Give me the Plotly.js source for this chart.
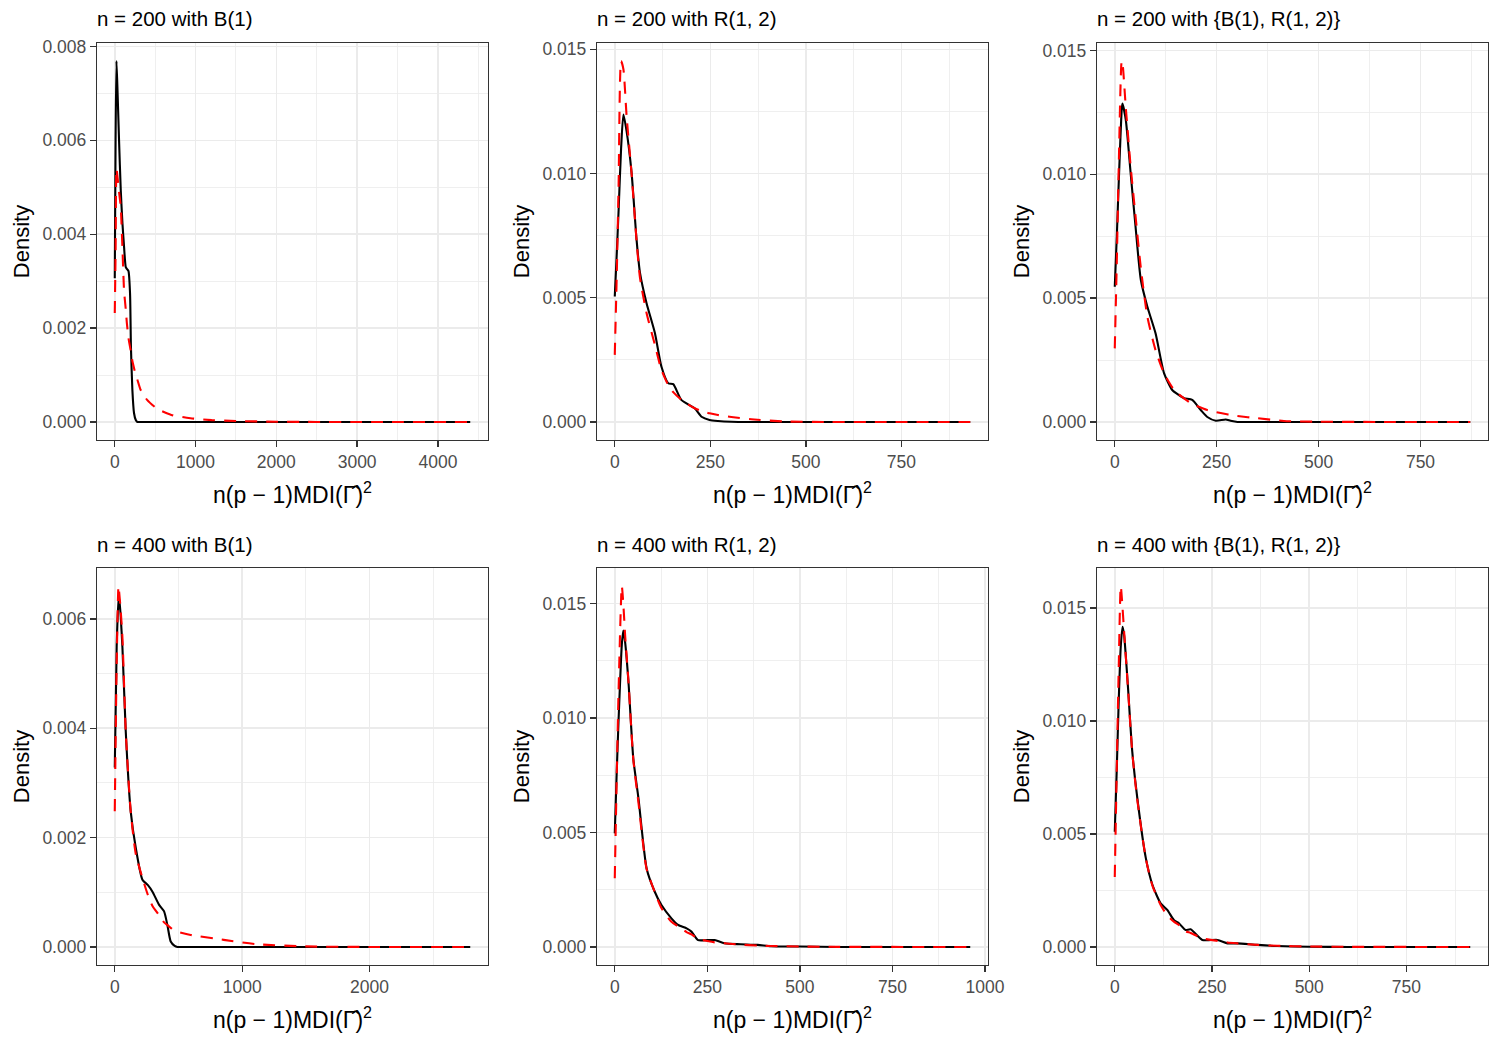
<!DOCTYPE html>
<html>
<head>
<meta charset="utf-8">
<script src="https://cdn.plot.ly/plotly-3.0.1.min.js"></script>
<style>html,body{margin:0;padding:0;background:#fff;}#chart{width:1500px;height:1050px;}</style>
</head>
<body>
<div id="chart"></div>
<script>
// ---------- data ----------
const panelTitles = ["n = 200 with B(1)", "n = 200 with R(1, 2)", "n = 200 with {B(1), R(1, 2)}",
                     "n = 400 with B(1)", "n = 400 with R(1, 2)", "n = 400 with {B(1), R(1, 2)}"];
const xTitle = "n(p − 1)MDI(Γ̂)<sup>2</sup>";
const yTitle = "Density";

const x1 = [0, 10, 21, 35, 53, 74, 95, 115, 136, 150, 169, 189, 200, 218, 238, 260, 280, 321, 400, 527, 700, 938, 1200, 1500, 2000, 2500, 3000, 4400];
const black1 = [0.00306, 0.0060, 0.00769, 0.0070, 0.0060, 0.00494, 0.00423, 0.00373, 0.0033, 0.00326, 0.00322, 0.00274, 0.0016, 0.00068, 0.00019, 0.00004, 0, 0, 0, 0, 0, 0, 0, 0, 0, 0, 0, 0];
const red1 = [0.00232, 0.0036, 0.0054, 0.0052, 0.0049, 0.00458, 0.0037, 0.0028, 0.0024, 0.0021, 0.0018, 0.0016, 0.0015, 0.0013, 0.00115, 0.0010, 0.0009, 0.00068, 0.00047, 0.00028, 0.00015, 0.00008, 0.00004, 0.00002, 0.000005, 0, 0, 0];

const x2 = [0, 5, 10, 16.5, 22.6, 31, 44, 57, 66, 83, 105, 122, 140, 153, 174, 209, 227, 248, 270, 305, 357, 443, 550, 700, 930];
const black2 = [0.00505, 0.0067, 0.0085, 0.0110, 0.01238, 0.0117, 0.01003, 0.00734, 0.0060, 0.00479, 0.00358, 0.00223, 0.00156, 0.00152, 0.00089, 0.00055, 0.00021, 0.00008, 0.00004, 0.00001, 0, 0, 0, 0, 0];
const red2 = [0.0027, 0.0058, 0.0095, 0.01453, 0.0142, 0.0123, 0.0100, 0.0073, 0.0058, 0.0044, 0.0031, 0.0021, 0.00148, 0.0012, 0.0009, 0.00055, 0.00045, 0.00035, 0.00028, 0.0002, 0.00011, 0.00002, 0, 0, 0];

const x3 = [0, 5, 10, 17, 18.8, 27, 39, 51, 64, 80, 100, 121, 141, 154, 170, 190, 211, 227, 248, 272, 284, 301, 350, 415, 500, 650, 872];
const black3 = [0.00546, 0.0075, 0.0098, 0.0126, 0.01285, 0.0122, 0.01003, 0.00788, 0.00573, 0.00465, 0.00358, 0.00196, 0.00129, 0.00112, 0.00096, 0.00089, 0.00048, 0.0002, 0.00005, 0.0001, 0.00005, 0, 0, 0, 0, 0, 0];
const red3 = [0.00297, 0.0065, 0.0105, 0.01457, 0.0145, 0.0127, 0.0103, 0.0083, 0.0062, 0.00425, 0.0029, 0.00196, 0.0014, 0.00116, 0.00095, 0.00072, 0.00058, 0.00048, 0.0004, 0.00032, 0.00028, 0.00024, 0.00015, 0.00004, 0.00001, 0, 0];

const x4 = [0, 15, 29, 34, 45, 60, 86, 125, 165, 217, 260, 296, 348, 387, 413, 439, 470, 492, 596, 855, 1119, 1500, 2000, 2790];
const black4 = [0.00328, 0.0055, 0.0063, 0.0064, 0.0061, 0.00548, 0.00395, 0.00248, 0.00181, 0.00123, 0.00113, 0.00101, 0.00077, 0.00065, 0.0004, 0.0001, 0.00002, 0, 0, 0, 0, 0, 0, 0];
const red4 = [0.00248, 0.0052, 0.0066, 0.0065, 0.0062, 0.00566, 0.00395, 0.00248, 0.0017, 0.00126, 0.00095, 0.00075, 0.00058, 0.00045, 0.0004, 0.00035, 0.0003, 0.00028, 0.00022, 0.00013, 0.00005, 0.00001, 0, 0];

const x5 = [0, 5, 10, 19, 23, 28, 37, 50, 64, 86, 108, 126, 153, 171, 194, 207, 225, 250, 270, 296, 340, 386, 422, 500, 600, 960];
const black5 = [0.00496, 0.0075, 0.0098, 0.0132, 0.01382, 0.0133, 0.01157, 0.00823, 0.00649, 0.00343, 0.00241, 0.00183, 0.00125, 0.00096, 0.00081, 0.00067, 0.0003, 0.0003, 0.0003, 0.00016, 0.00012, 0.00009, 0.00003, 0.00002, 0, 0];
const red5 = [0.003, 0.0072, 0.0110, 0.01576, 0.0150, 0.0136, 0.0116, 0.0082, 0.0063, 0.0034, 0.0024, 0.0017, 0.0011, 0.0009, 0.00065, 0.00055, 0.00035, 0.00026, 0.0002, 0.00016, 0.0001, 0.00006, 0.00004, 0.00002, 0.000005, 0];

const x6 = [0, 5, 10, 15.4, 20, 24, 33, 45, 58, 80, 97, 118, 135, 152, 165, 182, 195, 225, 264, 290, 315, 367, 418, 500, 600, 914];
const black6 = [0.0051, 0.0078, 0.0108, 0.0133, 0.01417, 0.0138, 0.01174, 0.00864, 0.00658, 0.00392, 0.00274, 0.00193, 0.00164, 0.00119, 0.00105, 0.00075, 0.00078, 0.00031, 0.00031, 0.00016, 0.00016, 0.00009, 0.00004, 0.00001, 0, 0];
const red6 = [0.0031, 0.0078, 0.0122, 0.01597, 0.0150, 0.01395, 0.0117, 0.0086, 0.0065, 0.0039, 0.0027, 0.00186, 0.0014, 0.00112, 0.00097, 0.0007, 0.00062, 0.00038, 0.00027, 0.0002, 0.00016, 0.00009, 0.00005, 0.00002, 0.000005, 0];

const xDticks = [1000, 250, 250, 1000, 250, 250];
const yDticks = [0.002, 0.005, 0.005, 0.002, 0.005, 0.005];

// ---------- build ----------
const panels = [
  {x: x1, b: black1, r: red1}, {x: x2, b: black2, r: red2}, {x: x3, b: black3, r: red3},
  {x: x4, b: black4, r: red4}, {x: x5, b: black5, r: red5}, {x: x6, b: black6, r: red6}
];

const W = 1500, H = 1050;
const colL = [97, 597, 1097], colW = 391;
const rowT = [43, 568], rowH = 397;

const FAM = "Liberation Sans, Arial, sans-serif";
const tickFont = {family: FAM, size: 17.5, color: "#4D4D4D"};
const titleFont = {family: FAM, size: 20.5, color: "#000"};
const axTitleFont = {family: FAM, size: 22, color: "#000"};
const xTitleFont = {family: FAM, size: 23, color: "#000"};

const data = [];
const layout = {
  width: W, height: H,
  margin: {l: 0, r: 0, t: 0, b: 0},
  paper_bgcolor: "#fff", plot_bgcolor: "#fff",
  showlegend: false,
  annotations: []
};

panels.forEach((p, i) => {
  const row = Math.floor(i / 3), col = i % 3;
  const ax = i === 0 ? "" : String(i + 1);
  const xa = "x" + ax, ya = "y" + ax;

  data.push({x: p.x, y: p.b, xaxis: xa, yaxis: ya, type: "scatter", mode: "lines",
             line: {color: "#000", width: 2.1, shape: "spline", smoothing: 0.6}, hoverinfo: "skip"});
  data.push({x: p.x, y: p.r, xaxis: xa, yaxis: ya, type: "scatter", mode: "lines",
             line: {color: "#FF0000", width: 2.1, dash: "12px,9px", shape: "spline", smoothing: 0.6}, hoverinfo: "skip"});

  const xmin = Math.min(...p.x), xmax = Math.max(...p.x);
  const ymin = Math.min(...p.b, ...p.r), ymax = Math.max(...p.b, ...p.r);
  const xs = xmax - xmin, ys = ymax - ymin;

  const x0 = colL[col] / W, x1d = (colL[col] + colW) / W;
  const yTop = 1 - rowT[row] / H, yBot = 1 - (rowT[row] + rowH) / H;

  const common = {
    showline: true, mirror: true, linecolor: "#333333", linewidth: 1.3,
    ticks: "outside", ticklen: 6, tickwidth: 1.3, tickcolor: "#333333",
    tickfont: tickFont, showgrid: true, gridcolor: "#EBEBEB", gridwidth: 1.6,
    zeroline: false, tickmode: "linear", tick0: 0, fixedrange: true, automargin: false
  };
  layout["xaxis" + ax] = Object.assign({}, common, {
    domain: [x0, x1d], anchor: ya,
    range: [xmin - 0.05 * xs, xmax + 0.05 * xs],
    dtick: xDticks[i], tickformat: "d",
    title: {text: xTitle, font: xTitleFont, standoff: 15},
    minor: {dtick: xDticks[i] / 2, tick0: 0, showgrid: true, gridcolor: "#EBEBEB", gridwidth: 0.8, ticklen: 0}
  });
  layout["yaxis" + ax] = Object.assign({}, common, {
    domain: [yBot, yTop], anchor: xa,
    range: [ymin - 0.05 * ys, ymax + 0.05 * ys],
    dtick: yDticks[i], tickformat: ".3f",
    title: {text: yTitle, font: axTitleFont, standoff: 6},
    minor: {dtick: yDticks[i] / 2, tick0: 0, showgrid: true, gridcolor: "#EBEBEB", gridwidth: 0.8, ticklen: 0}
  });

  // panel title
  layout.annotations.push({text: panelTitles[i], xref: "paper", yref: "paper",
    x: (colL[col] - 2) / W, y: 1 - (rowT[row] - 24) / H, xanchor: "left", yanchor: "middle",
    showarrow: false, font: titleFont});
});

Plotly.newPlot("chart", data, layout, {staticPlot: true, displayModeBar: false});
</script>
</body>
</html>
